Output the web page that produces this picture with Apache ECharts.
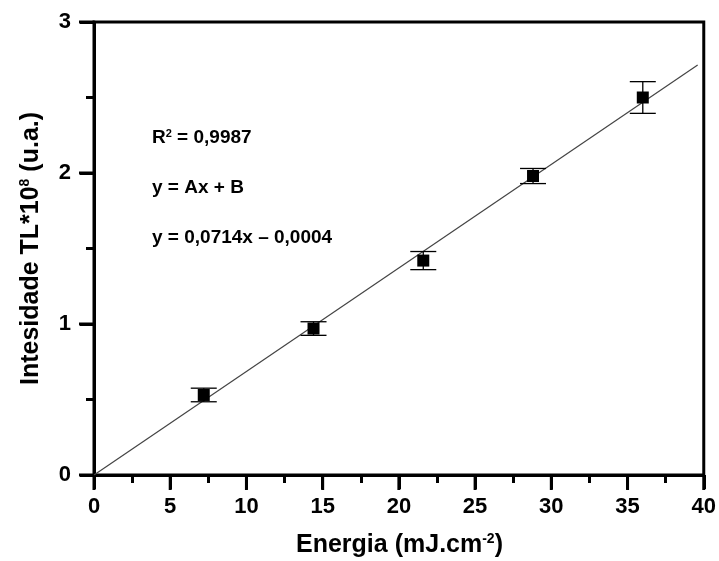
<!DOCTYPE html>
<html>
<head>
<meta charset="utf-8">
<script src="https://cdn.jsdelivr.net/npm/echarts@6/dist/echarts.min.js"></script>
<style>
	html, body { margin: 0; padding: 0; background: #fff; }
	#chart { width: 719px; height: 561px; }
</style>
</head>
<body>
<div id="chart"></div>
<script>
	// dados
	var energia = [7.2, 14.4, 21.6, 28.8, 36.0];
	var intensidade = [0.53, 0.97, 1.42, 1.98, 2.50];
	var erro = [0.045, 0.045, 0.06, 0.05, 0.105];
	var ajuste_x = [0, 39.6];
	var ajuste_y = [0, 2.715];
	var x_ticks = [0, 5, 10, 15, 20, 25, 30, 35, 40];
	var y_ticks = [0, 1, 2, 3];

	var font_family = '"Liberation Sans", Arial, sans-serif';
	var text_color = '#000';

	var pontos = energia.map(function (x, i) { return [x, intensidade[i]]; });
	var barras = energia.map(function (x, i) { return [x, intensidade[i] - erro[i], intensidade[i] + erro[i]]; });
	var linha = ajuste_x.map(function (x, i) { return [x, ajuste_y[i]]; });
	// marcas principais dos eixos: [x, y, direcao] (0 = para baixo, 1 = para a esquerda)
	var marcas = x_ticks.map(function (v) { return [v, y_ticks[0], 0]; })
		.concat(y_ticks.map(function (v) { return [x_ticks[0], v, 1]; }));

	var titulo_rich = {
		b: { fontSize: 25, fontWeight: 'bold', fontFamily: font_family, fill: text_color },
		s: { fontSize: 14, fontWeight: 'bold', fontFamily: font_family, fill: text_color, verticalAlign: 'top', padding: [0, 0, 12, 0] }
	};
	var nota_rich = {
		b: { fontSize: 19, fontWeight: 'bold', fontFamily: font_family, fill: text_color },
		s: { fontSize: 11, fontWeight: 'bold', fontFamily: font_family, fill: text_color, verticalAlign: 'top', padding: [0, 0, 9, 0] }
	};

	var chart = echarts.init(document.getElementById('chart'));
	var options = {
		animation: false,
		grid: {
			left: 94,
			right: 14,
			top: 22,
			bottom: 86,
			show: true,
			borderColor: '#000',
			borderWidth: 3
		},
		xAxis: {
			type: 'value',
			min: x_ticks[0],
			max: x_ticks[x_ticks.length - 1],
			interval: 5,
			axisLine: { show: true, lineStyle: { color: '#000', width: 3 } },
			axisTick: { show: true, length: 14, lineStyle: { color: '#000', width: 3 } },
			minorTick: { show: true, splitNumber: 2, length: 8, lineStyle: { color: '#000', width: 3 } },
			axisLabel: { margin: 21, fontSize: 22, fontWeight: 'bold', fontFamily: font_family, color: text_color },
			splitLine: { show: false }
		},
		yAxis: {
			type: 'value',
			min: y_ticks[0],
			max: y_ticks[y_ticks.length - 1],
			interval: 1,
			axisLine: { show: true, lineStyle: { color: '#000', width: 3 } },
			axisTick: { show: true, length: 14, lineStyle: { color: '#000', width: 3 } },
			minorTick: { show: true, splitNumber: 2, length: 8, lineStyle: { color: '#000', width: 3 } },
			axisLabel: { margin: 23, fontSize: 22, fontWeight: 'bold', fontFamily: font_family, color: text_color },
			splitLine: { show: false }
		},
		graphic: [
			{
				type: 'text',
				x: 399.5,
				y: 545,
				style: { text: '{b|Energia (mJ.cm}{s|-2}{b|)}', rich: titulo_rich, align: 'center', verticalAlign: 'middle' }
			},
			{
				type: 'text',
				x: 31,
				y: 248.5,
				rotation: Math.PI / 2,
				style: { text: '{b|Intesidade TL*10}{s|8}{b| (u.a.)}', rich: titulo_rich, align: 'center', verticalAlign: 'middle' }
			},
			{
				type: 'text',
				left: 152,
				top: 128,
				style: { text: '{b|R}{s|2}{b| = 0,9987}', rich: nota_rich }
			},
			{
				type: 'text',
				left: 152,
				top: 178,
				style: { text: 'y = Ax + B', fontSize: 19, fontWeight: 'bold', fontFamily: font_family, fill: text_color }
			},
			{
				type: 'text',
				left: 152,
				top: 228,
				style: { text: 'y = 0,0714x \u2013 0,0004', fontSize: 19, fontWeight: 'bold', fontFamily: font_family, fill: text_color }
			}
		],
		series: [
			{
				name: 'Marcas',
				type: 'custom',
				data: marcas,
				clip: false,
				silent: true,
				renderItem: function (params, api) {
					var p = api.coord([api.value(0), api.value(1)]);
					var esquerda = api.value(2) === 1;
					return {
						type: 'line',
						shape: esquerda
							? { x1: p[0], y1: p[1], x2: p[0] - 15, y2: p[1] }
							: { x1: p[0], y1: p[1], x2: p[0], y2: p[1] + 15 },
						style: { stroke: '#000', lineWidth: 3 }
					};
				},
				z: 1
			},
			{
				name: 'Ajuste',
				type: 'line',
				data: linha,
				symbol: 'none',
				lineStyle: { color: '#444', width: 1.2 },
				z: 2
			},
			{
				name: 'Erro',
				type: 'custom',
				data: barras,
				renderItem: function (params, api) {
					var x = api.value(0);
					var baixo = api.coord([x, api.value(1)]);
					var cima = api.coord([x, api.value(2)]);
					var meia = 13;
					var estilo = { stroke: '#000', lineWidth: 1.3 };
					return {
						type: 'group',
						children: [
							{ type: 'line', shape: { x1: baixo[0], y1: baixo[1], x2: cima[0], y2: cima[1] }, style: estilo },
							{ type: 'line', shape: { x1: baixo[0] - meia, y1: baixo[1], x2: baixo[0] + meia, y2: baixo[1] }, style: estilo },
							{ type: 'line', shape: { x1: cima[0] - meia, y1: cima[1], x2: cima[0] + meia, y2: cima[1] }, style: estilo }
						]
					};
				},
				z: 3
			},
			{
				name: 'Intensidade',
				type: 'scatter',
				data: pontos,
				symbol: 'rect',
				symbolSize: 12,
				itemStyle: { color: '#000', opacity: 1 },
				z: 4
			}
		]
	};

	chart.setOption(options, true);
</script>
</body>
</html>
